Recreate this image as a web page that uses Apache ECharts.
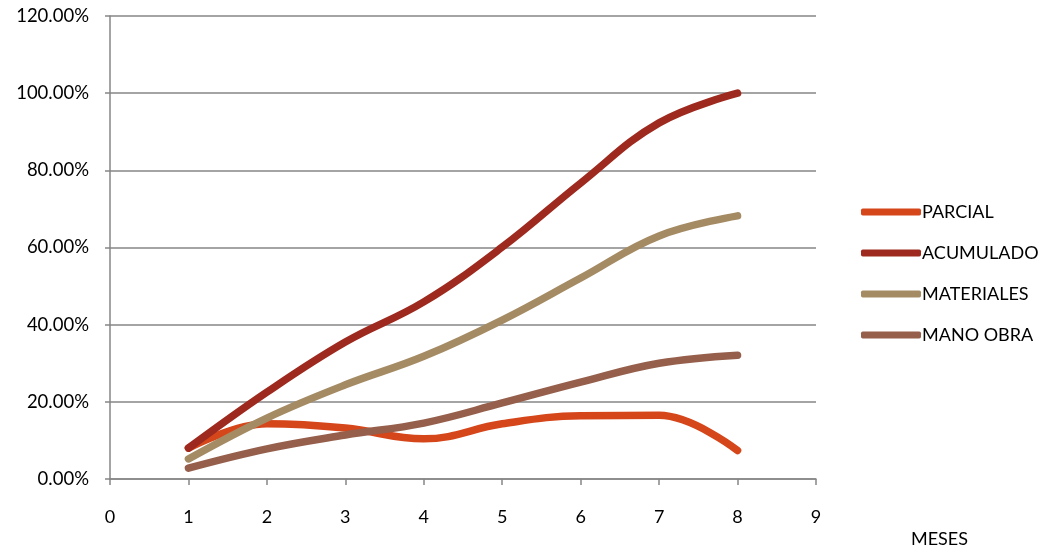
<!DOCTYPE html>
<html>
<head>
<meta charset="utf-8">
<script src="https://cdn.jsdelivr.net/npm/echarts@6/dist/echarts.min.js"></script>
<style>
    html, body { margin: 0; padding: 0; background: #fff; }
    #main { width: 1038px; height: 551px; }
</style>
</head>
<body>
<div id="main"></div>
<script>
// meses (x) and share of total budget per month
var meses = [1, 2, 3, 4, 5, 6, 7, 8];
var parcial = [0.080, 0.143, 0.132, 0.104, 0.143, 0.164, 0.165, 0.074];
var acumulado = [0.080, 0.225, 0.355, 0.459, 0.601, 0.767, 0.923, 1.000];
var materiales = [0.052, 0.158, 0.244, 0.318, 0.412, 0.521, 0.630, 0.682];
var manoObra = [0.028, 0.078, 0.114, 0.145, 0.197, 0.251, 0.300, 0.321];

var seriesNames = ['PARCIAL', 'ACUMULADO', 'MATERIALES', 'MANO OBRA'];
var seriesColors = ['#D5461A', '#9E2A1F', '#A58B64', '#955F4C'];
var seriesValues = [parcial, acumulado, materiales, manoObra];

var fontFamily = 'Lato, "Open Sans", sans-serif';

function pairs(values) {
    return meses.map(function (m, i) {
        return [m, values[i]];
    });
}

var chart = echarts.init(document.getElementById('main'));

chart.setOption({
    animation: false,
    grid: { left: 110, right: 222, top: 16, bottom: 72 },
    legend: {
        orient: 'vertical',
        left: 856,
        top: 198,
        itemWidth: 60,
        itemHeight: 7,
        itemGap: 23,
        icon: 'roundRect',
        textStyle: { fontFamily: fontFamily, fontSize: 18, color: '#000', padding: [0, 0, 0, -4] },
        data: seriesNames
    },
    xAxis: {
        type: 'value',
        min: 0,
        max: 9,
        interval: 1,
        axisLine: { lineStyle: { color: '#868686', width: 1.5 } },
        axisTick: { length: 6, lineStyle: { color: '#868686', width: 1.5 } },
        axisLabel: { color: '#000', fontFamily: fontFamily, fontSize: 18, margin: 29 },
        splitLine: { show: false }
    },
    yAxis: {
        type: 'value',
        min: 0,
        max: 1.2,
        interval: 0.2,
        axisLine: { show: true, lineStyle: { color: '#868686', width: 1.5 } },
        axisTick: { show: true, length: 5, lineStyle: { color: '#868686', width: 1.5 } },
        axisLabel: {
            color: '#000', fontFamily: fontFamily, fontSize: 18.5, margin: 21,
            formatter: function (v) { return (v * 100).toFixed(2) + '%'; }
        },
        splitLine: { lineStyle: { color: '#868686', width: 1.5 } }
    },
    graphic: [{
        type: 'text',
        left: 911,
        top: 530,
        style: { text: 'MESES', fontFamily: fontFamily, fontSize: 18, fill: '#000' }
    }],
    series: seriesNames.map(function (name, i) {
        return {
            name: name,
            type: 'line',
            smooth: 0.4,
            symbol: 'none',
            color: seriesColors[i],
            lineStyle: { width: 7.5, cap: 'round', join: 'round' },
            data: pairs(seriesValues[i])
        };
    })
});
</script>
</body>
</html>
